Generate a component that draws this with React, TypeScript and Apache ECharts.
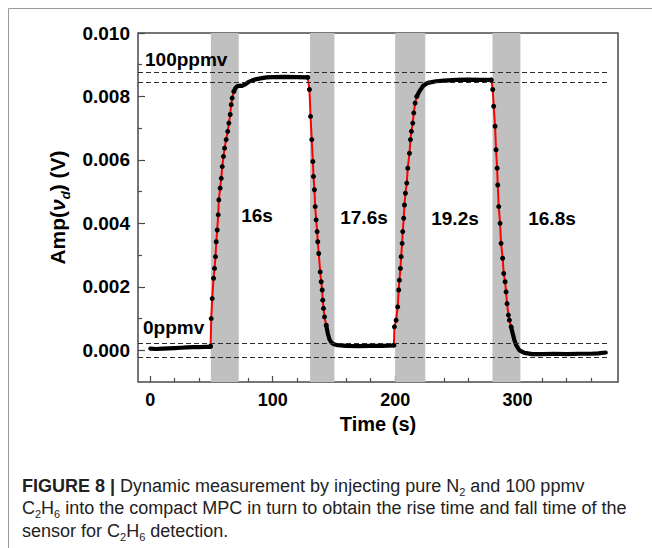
import React, { useEffect, useRef } from 'react';
import * as echarts from 'echarts';

const FONT = '"Liberation Sans", Arial, Helvetica, sans-serif';

// Axis ticks / labels
const xLabelValues = [0, 100, 200, 300];
const xMinorValues = [20, 40, 60, 80, 120, 140, 160, 180, 220, 240, 260, 280, 320, 340, 360];
const yLabelValues = [0, 0.002, 0.004, 0.006, 0.008, 0.01];
const yMinorValues = [0.001, 0.003, 0.005, 0.007, 0.009];

// Shaded transition windows (s)
const bands = [
  [49.5, 72.3],
  [130.5, 150.4],
  [200, 224.6],
  [279.5, 302.3],
];
// Dashed reference levels (V)
const levelLines = [0.00877, 0.00844, 0.00021, -0.00021];
const levelSpan = [-10, 373];

// Measured signal, [time (s), amplitude (V)]
const baselineA = [
  [0, 0.00005], [5, 0.00004], [10, 0.00005], [15, 0.00006], [20, 0.00007], [25, 0.00008],
  [30, 0.00009], [35, 0.0001], [40, 0.0001], [45, 0.00011], [49.3, 0.00011],
];
const riseA = [
  [49.3, 0.00013], [49.8, 0.001], [50.6, 0.00163], [51.7, 0.00227], [52.5, 0.00258],
  [53.3, 0.00295], [53.9, 0.00342], [54.7, 0.00379], [55.5, 0.00427], [56.0, 0.00474],
  [57.1, 0.00511], [58.0, 0.00542], [58.8, 0.00579], [59.8, 0.00611], [60.7, 0.00637],
  [62.0, 0.00664], [63.3, 0.0069], [64.2, 0.00716], [65.3, 0.00743], [66.1, 0.00774],
  [66.9, 0.00795], [68.3, 0.00816],
];
const plateauA = [
  [68.3, 0.00816], [69.5, 0.00826], [71, 0.00832], [73, 0.00834], [75, 0.00833],
  [77, 0.00837], [80, 0.00845], [83, 0.0085], [86, 0.00854], [90, 0.00857], [95, 0.0086],
  [100, 0.00861], [110, 0.00862], [120, 0.00861], [128.7, 0.0086],
];
const fallA = [
  [128.7, 0.0086], [130, 0.00822], [130.9, 0.00737], [131.9, 0.00664], [132.8, 0.00595],
  [133.3, 0.00548], [134.1, 0.00506], [134.7, 0.00453], [135.5, 0.00411], [136.3, 0.00374],
  [136.8, 0.00342], [137.6, 0.00305], [138.8, 0.00247], [139.6, 0.00216], [140.4, 0.0019],
  [140.9, 0.00158], [141.5, 0.00132], [142.3, 0.00105], [143.7, 0.00079],
];
const baselineB = [
  [143.7, 0.00079], [145, 0.00053], [146.4, 0.00034], [148, 0.00024], [150, 0.00019],
  [153, 0.00016], [160, 0.00014], [170, 0.00013], [180, 0.00014], [190, 0.00014], [199, 0.00015],
];
const riseB = [
  [199, 0.00016], [199.4, 0.00074], [200.8, 0.00095], [202.1, 0.00137], [202.9, 0.0019],
  [203.5, 0.00221], [204.3, 0.00258], [204.9, 0.00295], [205.7, 0.00337], [206.2, 0.00374],
  [207, 0.00416], [207.6, 0.00458], [208.4, 0.00495], [209.5, 0.00527], [210.3, 0.00574],
  [211.7, 0.00621], [212.5, 0.00664], [213.3, 0.0069], [214.4, 0.00716], [215.2, 0.00748],
  [216.3, 0.00779], [217.7, 0.008],
];
const plateauB = [
  [217.7, 0.008], [219.8, 0.00816], [222.5, 0.00832], [226.6, 0.00843], [233.5, 0.00848],
  [240, 0.0085], [250, 0.00852], [260, 0.00853], [270, 0.00852], [278.5, 0.00852],
];
const fallB = [
  [278.5, 0.00852], [279.7, 0.00822], [280.5, 0.00769], [281.6, 0.00706], [282.4, 0.00632],
  [283.3, 0.00574], [283.8, 0.00521], [284.6, 0.00453], [285.7, 0.004], [286.5, 0.00337],
  [287.8, 0.0029], [288.7, 0.00242], [289.8, 0.00216], [290.6, 0.00184], [291.4, 0.00147],
  [292.5, 0.00111], [293.3, 0.00095], [294.7, 0.00074],
];
const baselineC = [
  [294.7, 0.00074], [296, 0.00053], [297.4, 0.00032], [298.8, 0.00016], [301.5, 0],
  [305.6, -0.00008], [312, -0.00012], [320, -0.00012], [330, -0.00011], [340, -0.00012],
  [350, -0.00011], [360, -0.00011], [366, -0.0001], [372, -0.00007],
];

const steadySegments = [baselineA, plateauA, baselineB, plateauB, baselineC];
const transitions = [riseA, fallA, riseB, fallB];

export default function App() {
  const ref = useRef<HTMLDivElement>(null);

  useEffect(() => {
    if (!ref.current) return;
    const chart = echarts.init(ref.current, undefined, { renderer: 'svg' });

    const labelStyle = { fontFamily: FONT, fontWeight: 'bold' as const, fontSize: 19, color: '#000' };
    const tickLine = { color: '#4a4a4a', width: 1.2 };

    const series: any[] = [
      {
        type: 'line',
        data: [],
        z: 1,
        silent: true,
        markArea: {
          silent: true,
          itemStyle: { color: '#c0c0c0', opacity: 1 },
          data: bands.map((b) => [{ xAxis: b[0] }, { xAxis: b[1] }]),
        },
      },
      {
        type: 'line',
        data: [],
        z: 2,
        silent: true,
        markLine: {
          silent: true,
          symbol: 'none',
          label: { show: false },
          lineStyle: { color: '#2a2a2a', width: 1, type: [5, 3] },
          data: levelLines.map((v) => [
            { coord: [levelSpan[0], v] },
            { coord: [levelSpan[1], v] },
          ]),
        },
      },
      ...steadySegments.map((seg) => ({
        type: 'line',
        data: seg,
        z: 3,
        symbol: 'none',
        lineStyle: { color: '#000', width: 4.2, cap: 'round', join: 'round' },
      })),
      ...transitions.map((seg) => ({
        type: 'line',
        data: seg,
        z: 4,
        symbol: 'circle',
        symbolSize: 5,
        showSymbol: true,
        itemStyle: { color: '#000' },
        lineStyle: { color: '#ff0000', width: 2 },
      })),
    ];

    const captionRich = {
      b: { fontFamily: FONT, fontWeight: 'bold', fontSize: 18, color: '#222', lineHeight: 22 },
      r: { fontFamily: FONT, fontSize: 18, color: '#222', lineHeight: 22 },
      sub: { fontFamily: FONT, fontSize: 11, color: '#222', lineHeight: 12, verticalAlign: 'bottom' },
    };

    const annot = (text: string, x: number, y: number, align: string) => ({
      type: 'text',
      x,
      y,
      z: 100,
      silent: true,
      style: { text, ...labelStyle, fill: '#000', align, verticalAlign: 'middle' },
    });

    chart.setOption({
      animation: false,
      backgroundColor: '#fff',
      grid: {
        left: 138,
        right: 34,
        top: 33,
        bottom: 166,
        show: true,
        borderColor: '#4a4a4a',
        borderWidth: 1.5,
        backgroundColor: 'transparent',
      },
      xAxis: [
        {
          type: 'value',
          min: -10,
          max: 382,
          position: 'bottom',
          name: 'Time (s)',
          nameLocation: 'middle',
          nameGap: 29,
          nameTextStyle: { fontFamily: FONT, fontWeight: 'bold', fontSize: 20, color: '#000' },
          axisLine: { show: false, onZero: false },
          splitLine: { show: false },
          axisTick: { show: true, inside: true, length: 6, customValues: xLabelValues, lineStyle: tickLine },
          axisLabel: { ...labelStyle, fontSize: 18, margin: 9, customValues: xLabelValues, formatter: (v: number) => String(v) },
        },
        {
          type: 'value',
          min: -10,
          max: 382,
          position: 'bottom',
          axisLine: { show: false, onZero: false },
          splitLine: { show: false },
          axisLabel: { show: false },
          axisTick: { show: true, inside: true, length: 4, customValues: xMinorValues, lineStyle: tickLine },
        },
      ],
      yAxis: [
        {
          type: 'value',
          min: -0.001,
          max: 0.01,
          position: 'left',
          name: '{a|Amp(}{g|ν}{s|d}{a|) (V)}',
          nameLocation: 'middle',
          nameRotate: 90,
          nameGap: 62,
          nameTextStyle: {
            fontFamily: FONT,
            fontWeight: 'bold',
            fontSize: 21,
            color: '#000',
            rich: {
              a: { fontFamily: FONT, fontWeight: 'bold', fontSize: 21, color: '#000', lineHeight: 28 },
              g: { fontFamily: FONT, fontWeight: 'bold', fontStyle: 'italic', fontSize: 21, color: '#000', lineHeight: 28 },
              s: { fontFamily: FONT, fontWeight: 'bold', fontStyle: 'italic', fontSize: 13, color: '#000', lineHeight: 14, verticalAlign: 'bottom' },
            },
          },
          axisLine: { show: false, onZero: false },
          splitLine: { show: false },
          axisTick: { show: true, inside: true, length: 7, customValues: yLabelValues, lineStyle: tickLine },
          axisLabel: { ...labelStyle, margin: 8, customValues: yLabelValues, formatter: (v: number) => v.toFixed(3) },
        },
        {
          type: 'value',
          min: -0.001,
          max: 0.01,
          position: 'left',
          axisLine: { show: false, onZero: false },
          splitLine: { show: false },
          axisLabel: { show: false },
          axisTick: { show: true, inside: true, length: 4, customValues: yMinorValues, lineStyle: tickLine },
        },
      ],
      series,
      graphic: [
        { type: 'line', shape: { x1: 8.5, y1: 8.5, x2: 652, y2: 8.5 }, style: { stroke: '#9a9a9a', lineWidth: 1 }, silent: true },
        { type: 'line', shape: { x1: 8.5, y1: 8.5, x2: 8.5, y2: 548 }, style: { stroke: '#9a9a9a', lineWidth: 1 }, silent: true },
        annot('100ppmv', 145, 59, 'left'),
        annot('0ppmv', 143, 327, 'left'),
        annot('16s', 257, 215, 'center'),
        annot('17.6s', 364, 217, 'center'),
        annot('19.2s', 455, 218, 'center'),
        annot('16.8s', 552, 218, 'center'),
        {
          type: 'text', x: 22, y: 486, z: 100,
          style: {
            text: '{b|FIGURE 8 |}{r| Dynamic measurement by injecting pure N}{sub|2}{r| and 100 ppmv}',
            rich: captionRich, verticalAlign: 'middle', fill: '#222',
          },
        },
        {
          type: 'text', x: 22, y: 508, z: 100,
          style: {
            text: '{r|C}{sub|2}{r|H}{sub|6}{r| into the compact MPC in turn to obtain the rise time and fall time of the}',
            rich: captionRich, verticalAlign: 'middle', fill: '#222',
          },
        },
        {
          type: 'text', x: 22, y: 531, z: 100,
          style: {
            text: '{r|sensor for C}{sub|2}{r|H}{sub|6}{r| detection.}',
            rich: captionRich, verticalAlign: 'middle', fill: '#222',
          },
        },
      ],
    });

    return () => chart.dispose();
  }, []);

  return (
    <div
      ref={ref}
      style={{ position: 'fixed', left: 0, top: 0, width: 652, height: 548, background: '#fff' }}
    />
  );
}
